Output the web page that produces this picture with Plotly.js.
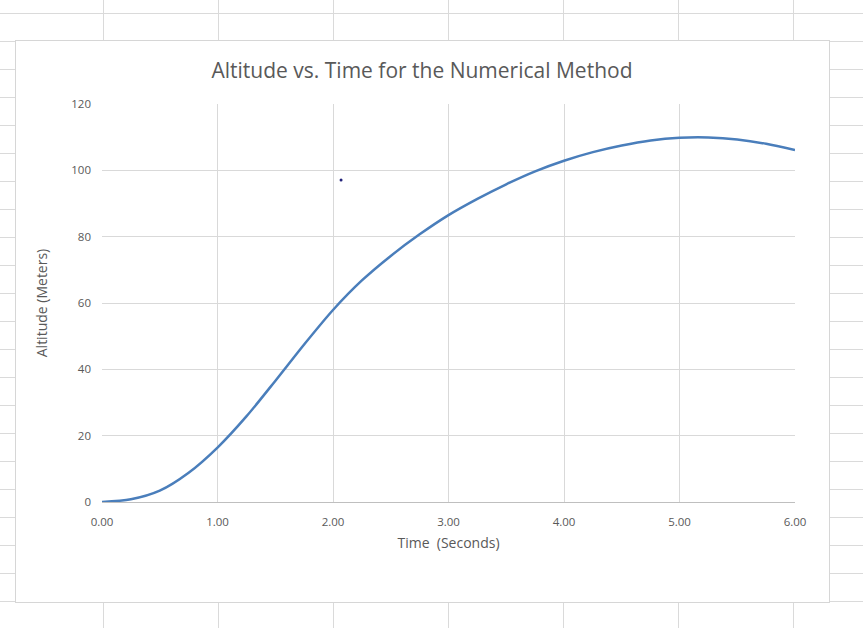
<!DOCTYPE html>
<html>
<head>
<meta charset="utf-8">
<script src="https://cdn.plot.ly/plotly-3.0.1.min.js"></script>
<style>
  html, body { margin: 0; padding: 0; width: 863px; height: 628px; overflow: hidden; }
  body {
    position: relative;
    background-color: #ffffff;
    background-image:
      repeating-linear-gradient(to bottom, transparent 0px, transparent 13px, #dadada 13px, #dadada 14px, transparent 14px, transparent 28px),
      repeating-linear-gradient(to right, transparent 0px, transparent 102px, #dadada 102px, #dadada 103px, transparent 103px, transparent 115px);
    background-position: 0 0, 1px 0;
  }
  #box { position: absolute; left: 15px; top: 40px; width: 813px; height: 561px; background: #ffffff; border: 1px solid #d6d6d6; }
  #chart { position: absolute; left: 0; top: 0; width: 863px; height: 628px; }
</style>
</head>
<body>
<div id="box"></div>
<div id="chart"></div>
<script>
// Time (s)
const time = [0, 0.25, 0.5, 0.75, 1.0, 1.25, 1.5, 1.75, 2.0, 2.25, 2.5, 2.75, 3.0,
              3.25, 3.5, 3.75, 4.0, 4.25, 4.5, 4.75, 5.0, 5.25, 5.5, 5.75, 6.0];
// Altitude (m)
const altitude = [0, 0.8, 3.4, 8.8, 16.4, 25.8, 36.5, 47.5, 57.9, 66.8, 74.2, 80.7, 86.5,
                  91.4, 95.8, 99.7, 102.9, 105.5, 107.5, 109.0, 109.8, 109.9, 109.3, 108.0, 106.1];
// stray point
const strayTime = [2.07];
const strayAlt = [97.1];

const xTicks = [0, 1, 2, 3, 4, 5, 6];
const xTickText = ["0.00", "1.00", "2.00", "3.00", "4.00", "5.00", "6.00"];
const yTicks = [0, 20, 40, 60, 80, 100, 120];

const font = "Open Sans, Noto Sans, sans-serif";
const gray = "#595959";

const traces = [
  { x: time, y: altitude, type: "scatter", mode: "lines",
    line: { color: "#4a7ebb", width: 2.5, shape: "spline", smoothing: 0.8 },
    hoverinfo: "x+y", showlegend: false },
  { x: strayTime, y: strayAlt, type: "scatter", mode: "markers",
    marker: { color: "#23237a", size: 3 }, showlegend: false }
];

const layout = {
  width: 863, height: 628,
  paper_bgcolor: "rgba(0,0,0,0)", plot_bgcolor: "rgba(0,0,0,0)",
  margin: { l: 102, r: 68, t: 104, b: 126 },
  font: { family: font, color: gray, size: 11 },
  title: { text: "Altitude vs. Time for the Numerical Method",
           font: { family: font, size: 21, color: gray },
           x: 0.489, xref: "container", y: 0.888, yref: "container", yanchor: "middle", xanchor: "center" },
  xaxis: { range: [0, 6], tickvals: xTicks, ticktext: xTickText,
           showgrid: true, gridcolor: "#d9d9d9", gridwidth: 1,
           zeroline: false, showline: true, linecolor: "#bfbfbf", linewidth: 1,
           ticks: "", ticklabelstandoff: 9, tickfont: { size: 11.5, color: gray, family: font },
           title: { text: "Time  (Seconds)", font: { size: 14, color: gray, family: font }, standoff: 10 },
           fixedrange: true },
  yaxis: { range: [0, 120], tickvals: yTicks,
           showgrid: true, gridcolor: "#d9d9d9", gridwidth: 1,
           zeroline: false, showline: false,
           ticks: "", ticklabelstandoff: 10, tickfont: { size: 11.5, color: gray, family: font },
           title: { text: "Altitude (Meters)", font: { size: 14, color: gray, family: font }, standoff: 20 },
           fixedrange: true },
  showlegend: false
};

Plotly.newPlot("chart", traces, layout, { displayModeBar: false, staticPlot: true });
</script>
</body>
</html>
